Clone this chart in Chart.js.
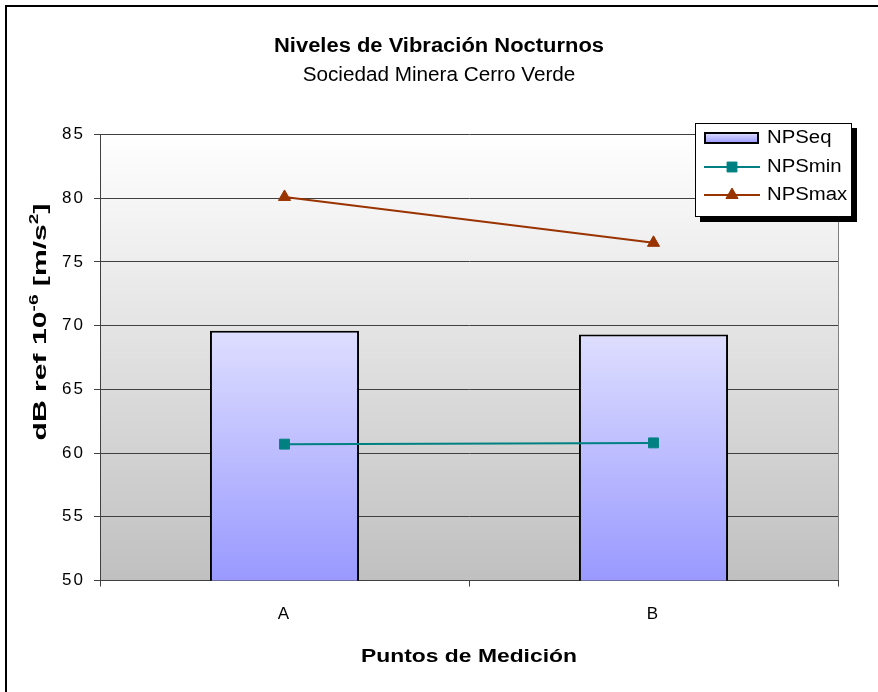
<!DOCTYPE html>
<html>
<head>
<meta charset="utf-8">
<script src="https://cdn.jsdelivr.net/npm/chart.js@4/dist/chart.umd.min.js"></script>
<style>
  html, body { margin: 0; padding: 0; background: #ffffff; }
  #wrap { width: 878px; height: 692px; position: relative; }
</style>
</head>
<body>
<div id="wrap"><canvas id="chart" width="878" height="692"></canvas></div>
<script>
// Measurement points and night-time vibration levels (dB ref 1e-6 m/s²)
const categories = ['A', 'B'];
const npsEq = [69.6, 69.3];
const npsMin = [60.7, 60.8];
const npsMax = [80.1, 76.5];
const yTickValues = [50, 55, 60, 65, 70, 75, 80, 85];

const FONT = "'Liberation Sans', Arial, sans-serif";
const TITLE = 'Niveles de Vibración Nocturnos';
const SUBTITLE = 'Sociedad Minera Cerro Verde';
const X_TITLE = 'Puntos de Medición';

// bar fill: light lavender at the top fading to periwinkle at the base
function barGradient(ctx, top, bottom) {
  const g = ctx.createLinearGradient(0, top, 0, bottom);
  g.addColorStop(0, '#dedeff');
  g.addColorStop(1, '#9999ff');
  return g;
}

// text drawn with a horizontal stretch factor (wide chart lettering)
function wideText(ctx, text, x, y, font, sx, align) {
  ctx.save();
  ctx.font = font;
  ctx.textAlign = align || 'center';
  ctx.textBaseline = 'middle';
  ctx.translate(x, y);
  ctx.scale(sx, 1);
  ctx.fillText(text, 0, 0);
  ctx.restore();
}

const frameAndBackground = {
  id: 'frameAndBackground',
  beforeDraw(chart) {
    const { ctx, chartArea: a } = chart;
    ctx.save();
    ctx.fillStyle = '#ffffff';
    ctx.fillRect(0, 0, chart.width, chart.height);
    // outer frame (top and left edges)
    ctx.strokeStyle = '#000000';
    ctx.lineWidth = 2;
    ctx.beginPath();
    ctx.moveTo(6, chart.height + 2);
    ctx.lineTo(6, 6);
    ctx.lineTo(chart.width + 2, 6);
    ctx.stroke();
    // plot area: white at the top to grey at the bottom
    const g = ctx.createLinearGradient(0, a.top, 0, a.bottom);
    g.addColorStop(0, '#ffffff');
    g.addColorStop(1, '#c0c0c0');
    ctx.fillStyle = g;
    ctx.fillRect(a.left, a.top, a.right - a.left, a.bottom - a.top);
    ctx.strokeStyle = '#808080';
    ctx.lineWidth = 1;
    ctx.beginPath();
    ctx.moveTo(Math.round(a.right) + 0.5, a.top);
    ctx.lineTo(Math.round(a.right) + 0.5, a.bottom);
    ctx.stroke();
    ctx.restore();
    // tick labels are set slightly apart
    ctx.letterSpacing = '2px';
  }
};

const texts = {
  id: 'texts',
  afterDraw(chart) {
    const { ctx, chartArea: a } = chart;
    ctx.save();
    ctx.letterSpacing = '0px';
    ctx.fillStyle = '#000000';
    wideText(ctx, TITLE, 439, 46, `bold 20px ${FONT}`, 1.097);
    wideText(ctx, SUBTITLE, 439, 75, `20px ${FONT}`, 1.035);
    wideText(ctx, X_TITLE, (a.left + a.right) / 2, 657, `bold 18px ${FONT}`, 1.27);

    // rotated y title with superscripts
    const parts = [
      { t: 'dB ref 10', sup: false },
      { t: '-6', sup: true },
      { t: ' [m/s', sup: false },
      { t: '2', sup: true },
      { t: ']', sup: false }
    ];
    const big = `bold 19px ${FONT}`;
    const small = `bold 12px ${FONT}`;
    let total = 0;
    parts.forEach(p => { ctx.font = p.sup ? small : big; p.w = ctx.measureText(p.t).width; total += p.w; });
    ctx.translate(39, 322);
    ctx.rotate(-Math.PI / 2);
    ctx.scale(237 / total, 1);
    ctx.textAlign = 'left';
    ctx.textBaseline = 'alphabetic';
    let x = -total / 2;
    parts.forEach(p => {
      ctx.font = p.sup ? small : big;
      ctx.fillText(p.t, x, p.sup ? -1 : 7);
      x += p.w;
    });
    ctx.restore();
  }
};

const boxLegend = {
  id: 'boxLegend',
  afterDraw(chart) {
    const { ctx } = chart;
    const bx = 695, by = 123, bw = 157, bh = 94;
    ctx.save();
    ctx.letterSpacing = '0px';
    ctx.fillStyle = '#000000';
    ctx.fillRect(bx + 5, by + 5, bw, bh);
    ctx.fillStyle = '#ffffff';
    ctx.fillRect(bx, by, bw, bh);
    ctx.strokeStyle = '#000000';
    ctx.lineWidth = 1;
    ctx.strokeRect(bx + 0.5, by + 0.5, bw - 1, bh - 1);

    const order = ['NPSeq', 'NPSmin', 'NPSmax'];
    const rows = [138, 167, 195];
    order.forEach((name, i) => {
      const ds = chart.data.datasets.find(d => d.label === name);
      const cy = rows[i];
      if (ds.type === 'bar') {
        ctx.fillStyle = barGradient(ctx, cy - 5, cy + 5);
        ctx.fillRect(705, cy - 5, 53, 10);
        ctx.lineWidth = 2;
        ctx.strokeStyle = '#000000';
        ctx.strokeRect(705, cy - 5, 53, 10);
      } else {
        ctx.strokeStyle = ds.borderColor;
        ctx.lineWidth = 2;
        ctx.beginPath();
        ctx.moveTo(704, cy);
        ctx.lineTo(760, cy);
        ctx.stroke();
        ctx.fillStyle = ds.backgroundColor;
        ctx.lineWidth = 1;
        Chart.helpers.drawPoint(ctx, {
          pointStyle: ds.pointStyle, radius: ds.pointRadius, borderWidth: 1, rotation: 0
        }, 732, cy);
      }
      ctx.fillStyle = '#000000';
      wideText(ctx, name, 767, cy, `18px ${FONT}`, 1.13, 'left');
    });
    ctx.restore();
  }
};

new Chart(document.getElementById('chart'), {
  data: {
    labels: categories,
    datasets: [
      {
        type: 'line', label: 'NPSmin', data: npsMin, order: 1,
        borderColor: '#008080', backgroundColor: '#008080', borderWidth: 2,
        pointStyle: 'rect', pointRadius: 7, pointBorderWidth: 1, tension: 0
      },
      {
        type: 'line', label: 'NPSmax', data: npsMax, order: 0,
        borderColor: '#993300', backgroundColor: '#993300', borderWidth: 2,
        pointStyle: 'triangle', pointRadius: 7, pointBorderWidth: 1, tension: 0
      },
      {
        type: 'bar', label: 'NPSeq', data: npsEq, order: 2,
        backgroundColor(c) {
          const ch = c.chart;
          if (!ch.chartArea) return '#c8c8ff';
          const y = ch.scales.y;
          return barGradient(ch.ctx, y.getPixelForValue(c.raw), y.getPixelForValue(y.min));
        },
        borderColor: '#000000', borderWidth: 2, borderSkipped: false,
        categoryPercentage: 1, barPercentage: 0.404
      }
    ]
  },
  options: {
    responsive: false,
    animation: false,
    devicePixelRatio: 1,
    layout: { padding: { top: 134.5, right: 40, left: 0, bottom: 0 } },
    plugins: { legend: { display: false }, title: { display: false }, tooltip: { enabled: false } },
    scales: {
      x: {
        offset: true,
        grid: { display: true, drawOnChartArea: false, offset: true, tickLength: 6, color: '#404040' },
        border: { color: '#404040', width: 1 },
        ticks: { color: '#000000', font: { family: FONT, size: 17 }, padding: 18 },
        afterFit(s) { s.height = 111.5; }
      },
      y: {
        min: yTickValues[0], max: yTickValues[yTickValues.length - 1],
        afterBuildTicks(s) { s.ticks = yTickValues.map(v => ({ value: v })); },
        grid: { color: '#404040', tickLength: 6 },
        border: { color: '#404040', width: 1 },
        ticks: { color: '#000000', font: { family: FONT, size: 17 }, padding: 9 },
        afterFit(s) { s.width = 100; }
      }
    }
  },
  plugins: [frameAndBackground, texts, boxLegend]
});
</script>
</body>
</html>
